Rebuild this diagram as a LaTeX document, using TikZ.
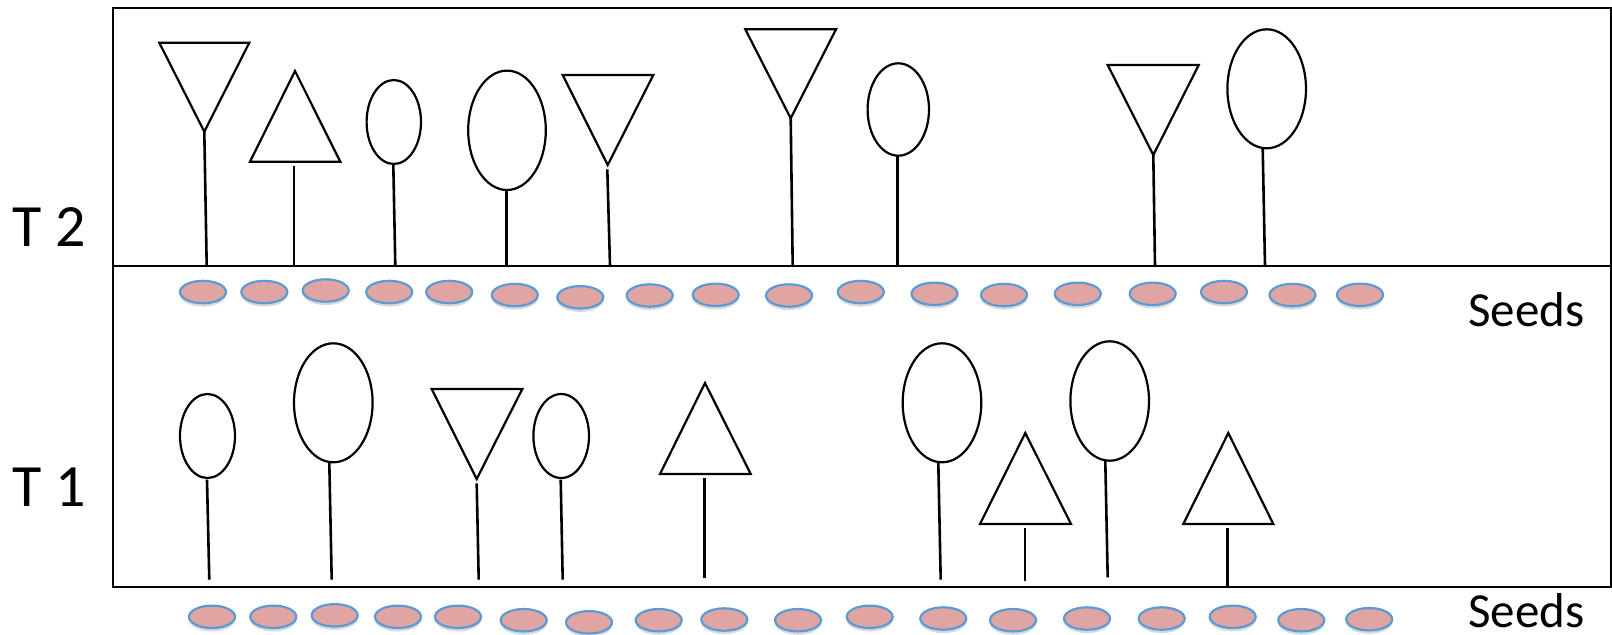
\documentclass[tikz,border=0pt]{standalone}
\usepackage{fontspec}
\setmainfont{Carlito}
\definecolor{seedfill}{RGB}{224,165,163}
\definecolor{seedline}{RGB}{91,155,213}
\begin{document}
\begin{tikzpicture}[x=0.5pt,y=-0.5pt,
  frame/.style={line width=1.2pt},
  head/.style={line width=1.1pt, line join=miter},
  stem/.style={line width=1.3pt},
  seed/.style={fill=seedfill, draw=seedline, line width=1.1pt},
  seedshadow/.style={fill=black, opacity=0.15},
  lbl/.style={inner sep=0pt, anchor=base west, font=\fontsize{30}{36}\selectfont},
  seedlbl/.style={inner sep=0pt, anchor=base west, font=\fontsize{24.5}{30}\selectfont}]
\useasboundingbox (0,0) rectangle (1612,634);

% frame
\draw[frame] (112.7,8) rectangle (1610.7,586.7);
\draw[frame] (112.7,265.7) -- (1610.7,265.7);

% labels
\node[lbl] (t2) at (12.5,246.7) {T 2};
\node[lbl] (t1) at (12.5,506.7) {T 1};
\node[seedlbl] (seedsA) at (1468,326.7) {Seeds};
\node[seedlbl] (seedsB) at (1468,627) {Seeds};

% inverted triangles: L, R, top, apex x, apex y
\foreach \l/\r/\t/\ax/\ay in {159.3/249.3/42.7/204.3/131.7, 562.7/653.3/75/607.7/165,
  745.3/836/29.3/790.7/118.3, 1107.7/1198.7/65/1153.3/155, 431.7/522.3/389/476.7/479}
  \draw[head] (\l,\t) -- (\r,\t) -- (\ax,\ay) -- cycle;

% upright triangles: L, R, base, apex x, apex y
\foreach \l/\r/\b/\ax/\ay in {250/340.3/161.7/295/71, 660/750.7/474/705/383,
  980/1071/524/1025.3/433, 1183.3/1273.3/524/1228.3/433}
  \draw[head] (\l,\b) -- (\r,\b) -- (\ax,\ay) -- cycle;

% ellipses: cx, cy, rx(pt), ry(pt)
\foreach \cx/\cy/\rx/\ry in {393.8/122/13.6/21, 507/130.3/19.4/29.85,
  898.3/109.5/15.35/23.1, 1266.7/88.8/19.65/29.75,
  207.5/436/13.75/21, 333.3/402.8/19.65/29.75, 561.2/436/13.9/21,
  942/402.8/19.65/29.75, 1109.7/401/19.65/29.85}
  \draw[head] (\cx,\cy) ellipse [x radius=\rx pt, y radius=\ry pt];

% stems
\foreach \xa/\ya/\xb/\yb in {204.3/131.7/206.7/265.7, 294/165.7/294/265.7,
  393.3/164/395.3/265.7, 506.7/190/506.7/265.7, 607.3/169.3/610/265.7,
  790.7/118.3/792.7/265.7, 897.7/155.7/897.7/265.7, 1153.3/155/1155/265.7,
  1262.7/148.3/1265/265.7,
  207/479.7/209.3/579.7, 329.3/462.3/331.7/579.7, 476.7/483.3/478.7/579.7,
  560.7/479.7/562.7/579.7, 704.3/478/704.3/578, 938.3/462.3/940.7/579.7,
  1025/528.3/1025/581.3, 1105.3/460.7/1107.7/577.3, 1227.3/528.3/1227.3/586.7}
  \draw[stem] (\xa,\ya) -- (\xb,\yb);

% seeds
\foreach \sx/\sy in {203/292, 264.3/292, 325.7/290.5, 389.2/292, 449.2/292,
  514.8/295, 580.3/297.3, 649.7/295.5, 715.7/294.8, 789/295.5, 860.8/292,
  934.5/293.8, 1004/295, 1077.8/293.8, 1152.7/293.8, 1224/292, 1292.5/295, 1360/294.8,
  212/616.8, 273.3/616.8, 334.7/615.3, 398/616.8, 458/616.8, 523.7/620.2,
  589/622.3, 658.7/620.2, 724.3/619.5, 798/620.2, 869.7/616.8, 943.3/618.5,
  1013/620.2, 1087/618.5, 1161.7/618.5, 1232.7/616.8, 1301.3/620.2, 1369.2/619.2}
{
  \fill[seedshadow] (\sx,\sy+3) ellipse [x radius=11.5pt, y radius=5.8pt];
  \draw[seed] (\sx,\sy) ellipse [x radius=11.5pt, y radius=5.6pt];
}
\end{tikzpicture}
\end{document}
